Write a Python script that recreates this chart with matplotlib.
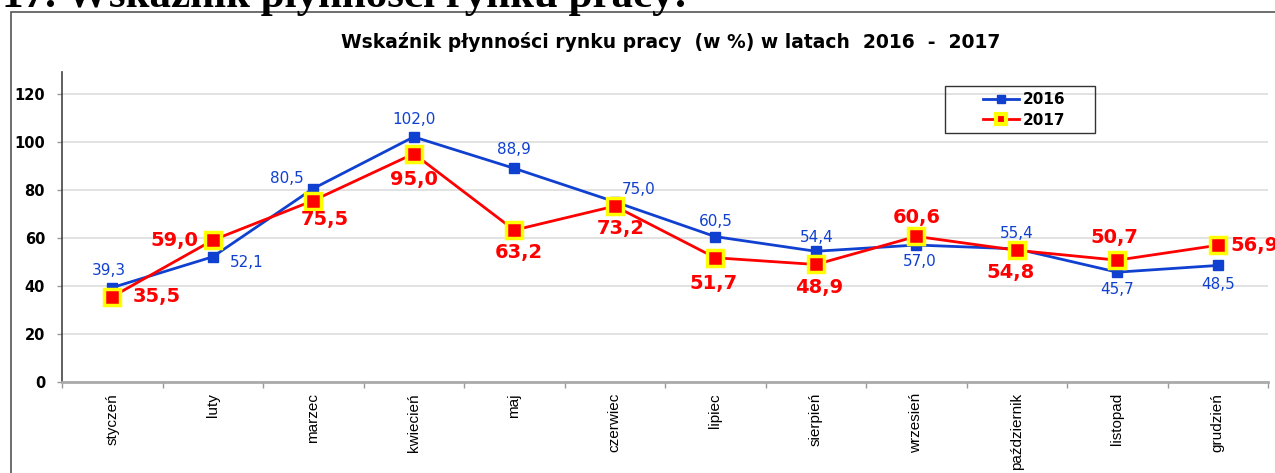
import numpy as np
import matplotlib
matplotlib.use("Agg")
import matplotlib.pyplot as plt
from matplotlib.lines import Line2D
from matplotlib.patches import Rectangle

months = ["styczeń", "luty", "marzec", "kwiecień", "maj", "czerwiec",
          "lipiec", "sierpień", "wrzesień", "październik", "listopad", "grudzień"]
v2016 = [39.3, 52.1, 80.5, 102.0, 88.9, 75.0, 60.5, 54.4, 57.0, 55.4, 45.7, 48.5]
v2017 = [35.5, 59.0, 75.5, 95.0, 63.2, 73.2, 51.7, 48.9, 60.6, 54.8, 50.7, 56.9]
yticks = [0, 20, 40, 60, 80, 100, 120]

title = "Wskaźnik płynności rynku pracy  (w %) w latach  2016  -  2017"
heading = "17. Wskaźnik płynności rynku pracy:"

BLUE = "#1040D0"
RED = "#FF0000"
YEL = "#FFFF00"

W, H = 1275, 473
fig = plt.figure(figsize=(W / 100, H / 100), dpi=100)

def fx(px):
    return px / W

def fy(py):
    return 1 - py / H

# outer chart box
fig.add_artist(Rectangle((fx(11), fy(600)), fx(1400), fy(12) - fy(600),
                         transform=fig.transFigure, fill=False,
                         edgecolor="#555555", linewidth=1.2))

# cropped heading
fig.text(fx(2), fy(7.5), heading, fontsize=31, fontweight="bold",
         family="Liberation Serif", va="baseline", ha="left", color="black")

ax = fig.add_axes([fx(62), fy(382), fx(1268) - fx(62), fy(72) - fy(382)])
x = np.arange(len(months))

ax.plot(x, v2016, color=BLUE, lw=2, marker="s", ms=7, mfc=BLUE, mec=BLUE, zorder=3)
ax.plot(x, v2017, color=RED, lw=2, marker="s", ms=12, mfc=RED, mec=YEL, mew=2.5, zorder=4)

ax.set_xlim(-0.5, len(months) - 0.5)
ax.set_ylim(0, 129)
ax.set_yticks(yticks)
ax.set_yticklabels([str(t) for t in yticks], fontsize=10.5, fontweight="bold",
                   family="DejaVu Sans")
ax.yaxis.grid(True, color="#DDDDDD", lw=1.2)
ax.set_axisbelow(True)

ax.set_xticks(np.arange(-0.5, len(months), 1))
ax.set_xticklabels([])
ax.set_xticks(x, minor=True)
ax.set_xticklabels(months, minor=True, rotation=90, fontsize=11,
                   family="Liberation Sans", va="top", ha="center")
ax.tick_params(axis="x", which="minor", length=0, pad=8)
ax.tick_params(axis="x", which="major", length=4, color="#999999", width=1)
ax.tick_params(axis="y", length=3.6, color="#999999", width=1, pad=8.6)

for s in ["top", "right"]:
    ax.spines[s].set_visible(False)
ax.spines["left"].set_color("#444444")
ax.spines["left"].set_linewidth(1.2)
ax.spines["bottom"].set_color("#AAAAAA")
ax.spines["bottom"].set_linewidth(2)

# label offsets in pixels (dx, dy)
off16 = [(-3, 17), (34, -6), (-26, 10), (0, 17), (0, 19), (24, 12),
         (1, 15), (1, 14), (3, -16), (0, 15), (0, -17), (0, -19)]
off17 = [(44, 0), (-38, 0), (12, -19), (0, -26), (5, -22), (6, -22),
         (-2, -26), (3, -23), (0, 19), (-6, -22), (-3, 23), (13, 0)]

for i, (v, (dx, dy)) in enumerate(zip(v2016, off16)):
    ax.annotate(f"{v:.1f}".replace(".", ","), (x[i], v), xytext=(dx, dy),
                textcoords="offset pixels", ha="center", va="center",
                fontsize=11, color=BLUE, family="DejaVu Sans",
                annotation_clip=False, zorder=5)
for i, (v, (dx, dy)) in enumerate(zip(v2017, off17)):
    ha = "left" if i == len(v2017) - 1 else "center"
    ax.annotate(f"{v:.1f}".replace(".", ","), (x[i], v), xytext=(dx, dy),
                textcoords="offset pixels", ha=ha, va="center",
                fontsize=14, fontweight="bold", color=RED, family="DejaVu Sans",
                annotation_clip=False, zorder=6)

fig.text(fx(671), fy(42), title, fontsize=13.5, fontweight="bold",
         family="DejaVu Sans", ha="center", va="center")

# legend
fig.add_artist(Rectangle((fx(945), fy(133)), fx(150), fy(86) - fy(133),
                         transform=fig.transFigure, fill=False,
                         edgecolor="#333333", linewidth=1))
h16 = Line2D([], [], color=BLUE, lw=2, marker="s", ms=6, mfc=BLUE, mec=BLUE)
h17 = Line2D([], [], color=RED, lw=2, marker="s", ms=7, mfc=RED, mec=YEL, mew=3)
fig.legend([h16, h17], ["2016", "2017"], loc="center left",
           bbox_to_anchor=(fx(975), fy(110)), frameon=False,
           prop={"family": "DejaVu Sans", "weight": "bold", "size": 11},
           handlelength=2.4, handletextpad=0.2, labelspacing=0.35, borderpad=0)

fig.savefig("out.png", dpi=100)
